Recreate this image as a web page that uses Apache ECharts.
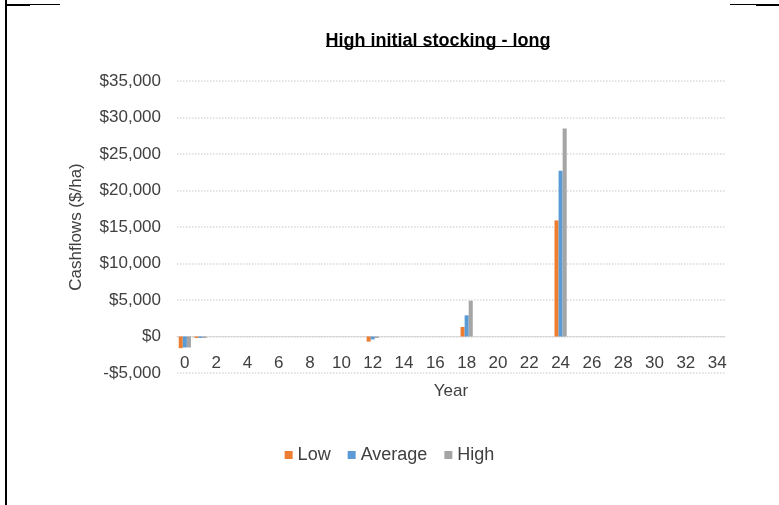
<!DOCTYPE html>
<html>
<head>
<meta charset="utf-8">
<script src="https://cdn.jsdelivr.net/npm/echarts@6/dist/echarts.min.js"></script>
<style>
  html, body { margin: 0; padding: 0; background: #fff; }
  #chart { width: 779px; height: 505px; }
</style>
</head>
<body>
<div id="chart"></div>
<script>
// years 0..34
const years = []
for (let y = 0; y <= 34; y++) years.push(String(y))

// cashflows ($/ha), only non-zero years filled
const lowVals = { 0: -1600, 1: -200, 12: -700, 18: 1300, 24: 15900 }
const avgVals = { 0: -1500, 1: -200, 12: -400, 18: 2900, 24: 22700 }
const highVals = { 0: -1500, 1: -200, 12: -200, 18: 4900, 24: 28500 }

const seriesNames = ['Low', 'Average', 'High']
const colors = ['#ED7D31', '#5B9BD5', '#A5A5A5']

function toArr (obj) {
  return years.map(function (y) { return obj[y] !== undefined ? obj[y] : 0 })
}
const lowData = toArr(lowVals)
const avgData = toArr(avgVals)
const highData = toArr(highVals)

const font = 'Liberation Sans, Arial, sans-serif'

const chart = echarts.init(document.getElementById('chart'))
const option = {
  animation: false,
  color: colors,
  title: {
    text: 'High initial stocking - long',
    left: 433,
    textAlign: 'center',
    top: 27,
    textStyle: { fontFamily: font, fontSize: 18, fontWeight: 'bold', color: '#000' }
  },
  legend: {
    data: seriesNames,
    bottom: 36,
    left: 'center',
    icon: 'rect',
    itemWidth: 8,
    itemHeight: 8,
    itemGap: 17,
    textStyle: { fontFamily: font, fontSize: 18, color: '#404040' }
  },
  grid: { left: 177, right: 54, top: 81, bottom: 132 },
  xAxis: {
    type: 'category',
    data: years,
    name: 'Year',
    nameLocation: 'middle',
    nameGap: 46,
    nameTextStyle: { fontFamily: font, fontSize: 17, color: '#404040' },
    axisLine: { onZero: false, lineStyle: { color: '#d9d9d9' } },
    offset: -36.5,
    axisTick: { show: false },
    axisLabel: { interval: 1, margin: 18, fontFamily: font, fontSize: 17, color: '#404040' }
  },
  yAxis: {
    type: 'value',
    min: -5000,
    max: 35000,
    interval: 5000,
    name: 'Cashflows ($/ha)',
    nameLocation: 'middle',
    nameGap: 92,
    nameTextStyle: { fontFamily: font, fontSize: 17, color: '#404040' },
    axisLine: { show: false },
    axisTick: { show: false },
    splitLine: { lineStyle: { color: '#d9d9d9', type: 'dotted', width: 1.5 } },
    axisLabel: {
      margin: 16,
      fontFamily: font,
      fontSize: 17,
      color: '#404040',
      formatter: function (v) {
        const s = '$' + Math.abs(v).toLocaleString('en-US')
        return v < 0 ? '-' + s : s
      }
    }
  },
  series: [
    { name: 'Low', type: 'bar', data: lowData, barGap: '0%', barCategoryGap: '22%' },
    { name: 'Average', type: 'bar', data: avgData, barGap: '0%', barCategoryGap: '22%' },
    { name: 'High', type: 'bar', data: highData, barGap: '0%', barCategoryGap: '22%' }
  ],
  graphic: [
    { type: 'rect', shape: { x: 5, y: 0, width: 2, height: 505 }, style: { fill: '#000' } },
    { type: 'line', shape: { x1: 6, y1: 4.5, x2: 60, y2: 4.5 }, style: { stroke: '#000', lineWidth: 1 } },
    { type: 'rect', shape: { x: 6, y: 4, width: 24, height: 2 }, style: { fill: '#000' } },
    { type: 'line', shape: { x1: 730, y1: 4.5, x2: 779, y2: 4.5 }, style: { stroke: '#000', lineWidth: 1 } },
    { type: 'rect', shape: { x: 756, y: 4, width: 23, height: 2 }, style: { fill: '#000' } },
    { type: 'line', shape: { x1: 326, y1: 46.5, x2: 550, y2: 46.5 }, style: { stroke: '#000', lineWidth: 1 } }
  ]
}
chart.setOption(option)
</script>
</body>
</html>
